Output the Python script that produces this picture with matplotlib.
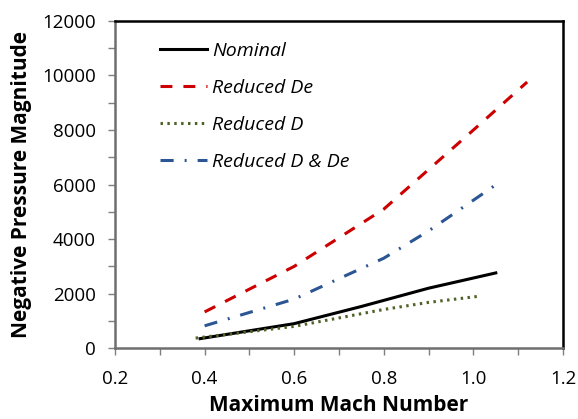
import matplotlib
matplotlib.use('Agg')
import matplotlib.pyplot as plt
from matplotlib.ticker import MultipleLocator, FormatStrFormatter

# Dados
mach_nominal = [0.39, 0.6, 0.75, 0.9, 1.05]
p_nominal = [350, 900, 1530, 2200, 2760]

mach_red_de = [0.40, 0.6, 0.8, 1.0, 1.12]
p_red_de = [1330, 3000, 5100, 8000, 9760]

mach_red_d = [0.38, 0.6, 0.8, 0.9, 1.01]
p_red_d = [370, 800, 1420, 1680, 1900]

mach_red_dde = [0.40, 0.6, 0.8, 0.9, 1.05]
p_red_dde = [820, 1800, 3300, 4300, 5990]

labels = ['Nominal', 'Reduced De', 'Reduced D', 'Reduced D & De']

plt.rcParams['font.family'] = ['Open Sans', 'DejaVu Sans']

fig = plt.figure(figsize=(5.78, 4.19), dpi=100)
ax = fig.add_axes([0.199, 0.169, 0.775, 0.781])

lw = 2.2
ax.plot(mach_nominal, p_nominal, color='black', lw=lw, label=labels[0])
ax.plot(mach_red_de, p_red_de, color='#CC0000', lw=lw, dashes=(3.9, 3.6), label=labels[1])
ax.plot(mach_red_d, p_red_d, color='#4F6228', lw=lw, dashes=(0.8, 1.45), label=labels[2])
ax.plot(mach_red_dde, p_red_dde, color='#2C5593', lw=lw, dashes=(4.3, 3.6, 0.65, 3.6), label=labels[3])

ax.set_xlim(0.2, 1.2)
ax.set_ylim(0, 12000)
ax.xaxis.set_major_locator(MultipleLocator(0.2))
ax.xaxis.set_minor_locator(MultipleLocator(0.1))
ax.yaxis.set_major_locator(MultipleLocator(2000))
ax.yaxis.set_minor_locator(MultipleLocator(1000))
ax.xaxis.set_major_formatter(FormatStrFormatter('%.1f'))

ax.tick_params(which='both', direction='out', length=5, width=1, colors='#7f7f7f',
               labelcolor='black', labelsize=13.5, pad=9)
ax.tick_params(axis='x', pad=11)
ax.tick_params(top=False, right=False, which='both')

for s in ['left', 'bottom']:
    ax.spines[s].set_color('#6f6f6f')
    ax.spines[s].set_linewidth(1.8)
for s in ['top', 'right']:
    ax.spines[s].set_color('black')
    ax.spines[s].set_linewidth(1.8)

ax.set_xlabel('Maximum Mach Number', fontsize=15, fontweight='bold', labelpad=5)
ax.set_ylabel('Negative Pressure Magnitude', fontsize=15, fontweight='bold', labelpad=7)

leg = ax.legend(loc='upper left', bbox_to_anchor=(0.061, 0.99), frameon=False,
                handlelength=2.4, handletextpad=0.3, labelspacing=0.98,
                prop={'style': 'italic', 'size': 14})

fig.savefig('out.png', dpi=100)
